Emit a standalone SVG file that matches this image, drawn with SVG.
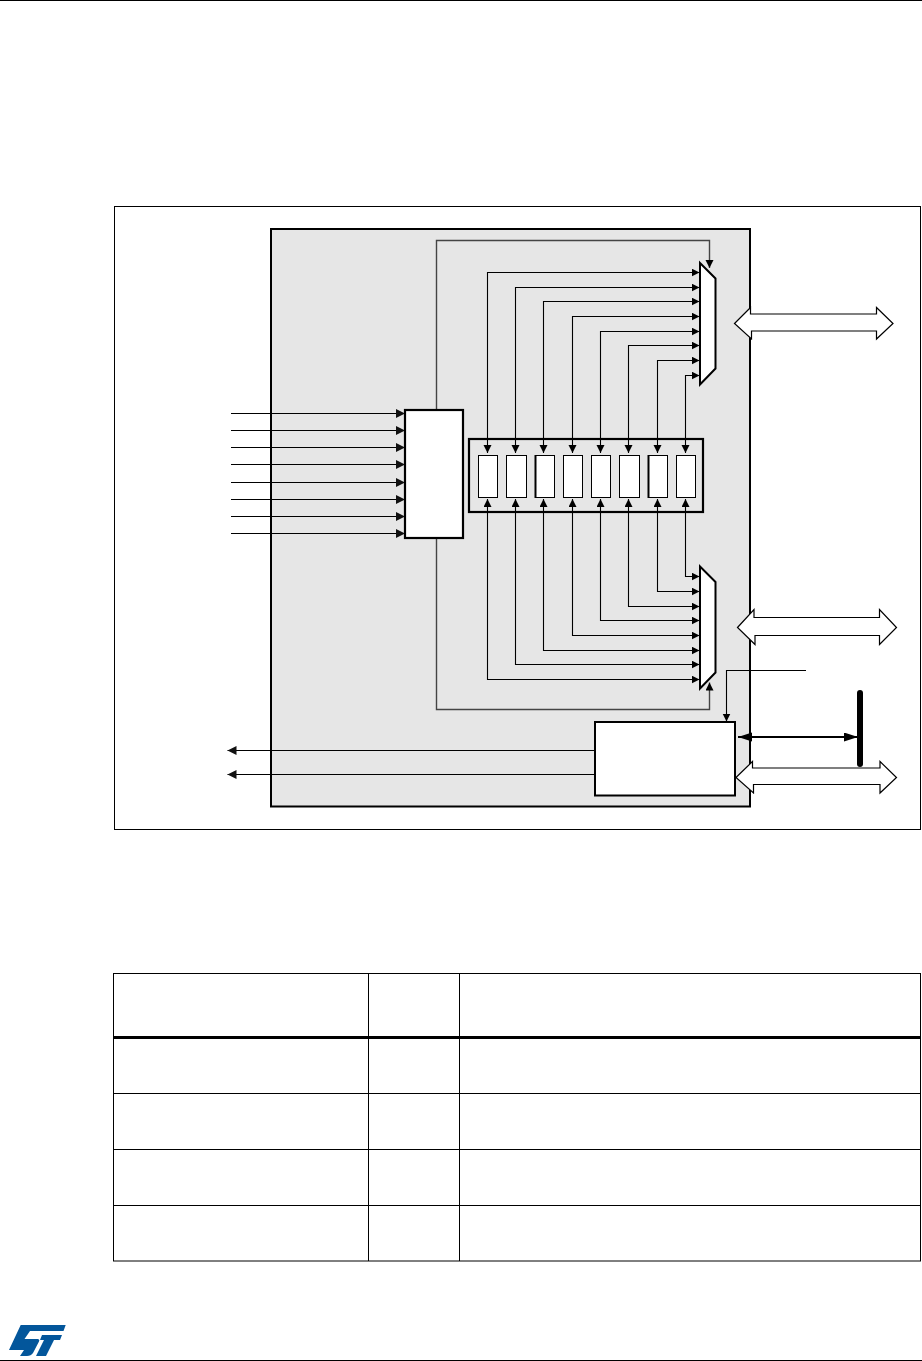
<svg xmlns="http://www.w3.org/2000/svg" width="922" height="1361" viewBox="0 0 922 1361">
<style>
.w{fill:#fff;stroke:#000}
.ln{fill:none;stroke:#000;stroke-width:1.1}
.fb{fill:none;stroke:#444;stroke-width:1.4}
.a{marker-end:url(#ah)}
.d{marker-start:url(#ah);marker-end:url(#ah)}
.in{marker-end:url(#ahl)}
.b2{stroke-width:2}
.b1{stroke-width:1}
.tb{stroke:#000;stroke-width:1;fill:none}
.hollow{fill:#fff;stroke:#000;stroke-width:1.2}
</style>
<defs>
<marker id="ah" markerUnits="userSpaceOnUse" markerWidth="9" markerHeight="9" refX="8" refY="4" orient="auto-start-reverse"><path d="M0,0L8,4L0,8z" fill="#000"/></marker>
<marker id="ahl" markerUnits="userSpaceOnUse" markerWidth="10" markerHeight="10" refX="9" refY="4.5" orient="auto"><path d="M0,0L9,4.5L0,9z" fill="#111"/></marker>
<marker id="ahb" markerUnits="userSpaceOnUse" markerWidth="15" markerHeight="10" refX="14" refY="4.5" orient="auto-start-reverse"><path d="M0,0L14,4.5L0,9z" fill="#000"/></marker>
</defs>
<rect width="922" height="1361" fill="#fff"/>
<g id="page-rules"><path class="tb" d="M0,0.5H922M0,1360.5H922"/></g>
<g id="frame"><rect class="w b1" x="114.5" y="206.5" width="806" height="623"/></g>
<g id="block"><rect x="271" y="229" width="479" height="577.5" fill="#e6e6e6" stroke="#000" stroke-width="2"/></g>

<g id="register-bank"><rect x="469" y="439" width="234" height="73" fill="#e6e6e6" stroke="#000" stroke-width="2.2"/></g>
<g id="registers">
<rect class="w b1" x="478.5" y="455.5" width="19" height="42"/>
<rect class="w b1" x="506.5" y="455.5" width="20" height="42"/>
<rect class="w b1" x="535.5" y="455.5" width="19" height="42"/><path d="M535.5,455V498" stroke="#000" stroke-width="2"/>
<rect class="w b1" x="563.5" y="455.5" width="19" height="42"/>
<rect class="w b1" x="591.5" y="455.5" width="19" height="42"/>
<rect class="w b1" x="619.5" y="455.5" width="20" height="42"/>
<rect class="w b1" x="648.5" y="455.5" width="19" height="42"/><path d="M648.5,455V498" stroke="#000" stroke-width="2"/>
<rect class="w b1" x="676.5" y="455.5" width="19" height="42"/>
</g>

<g id="connectors">
<path class="fb a" d="M436.5,410V240.5H709.5V268"/>
<path class="fb a" d="M436.5,538V709.5H709.5V682.5"/>
<path class="ln in" d="M231,413.5H405"/>
<path class="ln in" d="M231,430.5H405"/>
<path class="ln in" d="M231,447.5H405"/>
<path class="ln in" d="M231,464.5H405"/>
<path class="ln in" d="M231,482.5H405"/>
<path class="ln in" d="M231,499.5H405"/>
<path class="ln in" d="M231,516.5H405"/>
<path class="ln in" d="M231,533.5H405"/>
<path class="ln in" d="M595,750.5H227.5"/>
<path class="ln in" d="M595,774.5H227.5"/>
<path class="ln d" d="M487.5,453V272.5H699.5"/>
<path class="ln d" d="M515.5,453V287.5H699.5"/>
<path class="ln d" d="M543.5,453V301.5H699.5"/>
<path class="ln d" d="M572.5,453V316.5H699.5"/>
<path class="ln d" d="M600.5,453V331.5H699.5"/>
<path class="ln d" d="M628.5,453V345.5H699.5"/>
<path class="ln d" d="M657.5,453V360.5H699.5"/>
<path class="ln d" d="M685.5,453V375.5H699.5"/>
<path class="ln d" d="M487.5,499V679.5H699.5"/>
<path class="ln d" d="M515.5,499V664.5H699.5"/>
<path class="ln d" d="M543.5,499V650.5H699.5"/>
<path class="ln d" d="M572.5,499V635.5H699.5"/>
<path class="ln d" d="M600.5,499V620.5H699.5"/>
<path class="ln d" d="M628.5,499V606.5H699.5"/>
<path class="ln d" d="M657.5,499V591.5H699.5"/>
<path class="ln d" d="M685.5,499V576.5H699.5"/>
<path class="ln a" d="M806,670.5H726.5V721.5"/>
<path d="M738,737H858" fill="none" stroke="#000" stroke-width="1.8" marker-start="url(#ahb)" marker-end="url(#ahb)"/>
</g>

<g id="bus"><path d="M860,693V764" fill="none" stroke="#000" stroke-width="6" stroke-linecap="round"/></g>
<g id="arrow-top"><path class="hollow" d="M734.5,323.5L750.5,307.5V314H876.5V307.5L893,323.5L876.5,339V331H751.5V339z"/></g>
<g id="arrow-mid"><path class="hollow" d="M737.5,627.5L754,609.5V617.5H879.5V609.5L896.5,627.5L879.5,644.5V635.5H755V644.5z"/></g>
<g id="arrow-bottom"><path class="hollow" d="M736,777.5L752.5,761.5V768H880V761.5L896.5,777.5L880,793V784.5H753.5V793z"/></g>

<g id="mux-top"><path class="w b2" d="M700,263L715.5,278.5V368.5L700,384.5z"/></g>
<g id="mux-bottom"><path class="w b2" d="M700,566.5L715.5,582V672.5L700,688.5z"/></g>
<g id="arbiter"><rect class="w" stroke-width="2.2" x="405" y="410" width="58" height="128"/></g>
<g id="interface"><rect class="w b2" x="595" y="722" width="140" height="73.5"/></g>

<g id="table">
<rect x="113.5" y="973.5" width="807" height="287.5" fill="#fff" stroke="#000" stroke-width="1"/>
<path class="tb" d="M368.5,973.5V1261M459.5,973.5V1261M113.5,1093.5H920.5M113.5,1149.5H920.5M113.5,1205.5H920.5"/>
<path d="M113.5,1037.5H920.5" stroke="#000" stroke-width="3" fill="none"/>
</g>
<g id="logo" fill="#03569b">
<path d="M20.7,1325H65.7L63.5,1331H30L24.5,1339H37.5Q40,1339 39,1341.5L33,1353Q31,1356 27,1356H20L24,1350H9z"/>
<path d="M42,1335H62L60,1340H54L46,1356H36L44,1340H40z"/>
</g>
</svg>
